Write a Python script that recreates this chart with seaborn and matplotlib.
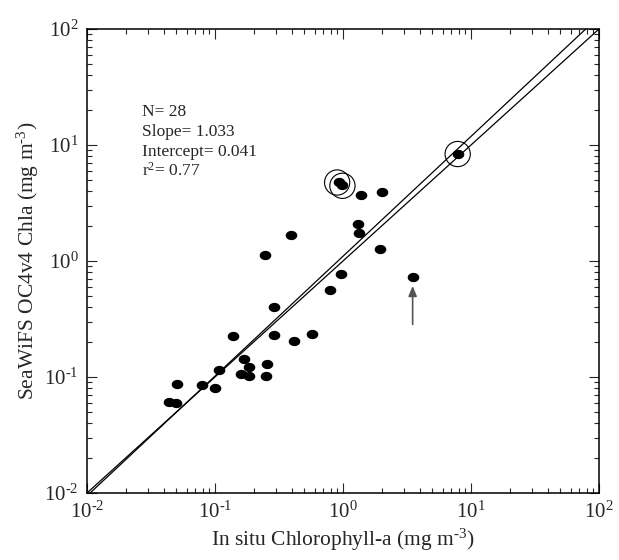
import numpy as np
import pandas as pd
import matplotlib
matplotlib.use("Agg")
import matplotlib.pyplot as plt
from matplotlib.path import Path
import seaborn as sns
from matplotlib.ticker import LogLocator, FixedLocator, FixedFormatter, NullFormatter

# ---- data ----
insitu = [0.044, 0.050, 0.0505, 0.079, 0.100, 0.108, 0.137, 0.169, 0.160, 0.184,
          0.184, 0.256, 0.252, 0.246, 0.290, 0.290, 0.393, 0.412, 0.576, 0.787,
          0.964, 1.31, 1.34, 1.96, 3.50, 0.925, 0.98, 1.39, 2.00, 7.87]
seawifs = [0.0605, 0.0593, 0.0875, 0.0853, 0.080, 0.115, 0.227, 0.143, 0.1055, 0.121,
           0.102, 0.129, 0.1026, 1.12, 0.399, 0.230, 1.69, 0.203, 0.235, 0.559,
           0.778, 2.08, 1.75, 1.27, 0.724, 4.83, 4.52, 3.71, 3.91, 8.36]
circled_x = [0.90, 0.99, 7.87]
circled_y = [4.75, 4.45, 8.36]
arrow_x = 3.5
arrow_from = 0.284
arrow_to = 0.61

n_obs = 28
slope = 1.033
intercept = 0.041
r2 = 0.77
tick_vals = [1e-2, 1e-1, 1e0, 1e1, 1e2]
tick_labels = ["10$^{\u2010 2}$", "10$^{\u2010 1}$", "10$^{0}$", "10$^{1}$", "10$^{2}$"]

df = pd.DataFrame({"insitu": insitu, "seawifs": seawifs})
line_x = np.array([1e-2, 1e2])
lines = pd.DataFrame({
    "x": np.concatenate([line_x, line_x]),
    "y": np.concatenate([line_x, 10 ** (slope * np.log10(line_x) + intercept)]),
    "kind": ["1:1"] * 2 + ["fit"] * 2,
})

# slightly wide elliptical dot, like the reference
theta = np.linspace(0, 2 * np.pi, 41)
ellipse = Path(np.column_stack([np.cos(theta), 0.8 * np.sin(theta)]), closed=True)

sns.set_style("ticks")
plt.rcParams["font.family"] = ["Liberation Serif", "DejaVu Serif"]
plt.rcParams["mathtext.fontset"] = "custom"
plt.rcParams["mathtext.rm"] = "Liberation Serif"
plt.rcParams["mathtext.default"] = "regular"

fig = plt.figure(figsize=(6.19, 5.60), dpi=100)
ax = fig.add_axes([87 / 619, 1 - 493 / 560, 512 / 619, 464 / 560])

sns.lineplot(data=lines, x="x", y="y", units="kind", estimator=None,
             color="black", linewidth=0.9, ax=ax, legend=False)
sns.scatterplot(data=df, x="insitu", y="seawifs", color="black", s=70,
                marker=ellipse, edgecolor="black", linewidth=0, ax=ax,
                legend=False, zorder=3)
sns.scatterplot(x=circled_x, y=circled_y, s=330, facecolor="none",
                edgecolor="black", linewidth=0.8, ax=ax, legend=False, zorder=4)

ax.annotate("", xy=(arrow_x, arrow_to), xytext=(arrow_x, arrow_from),
            arrowprops=dict(arrowstyle="-|>,head_width=0.25,head_length=0.6",
                            color="#555555", lw=1.2,
                            mutation_scale=10, shrinkA=0, shrinkB=0))

ax.set_xscale("log")
ax.set_yscale("log")
ax.set_xlim(1e-2, 1e2)
ax.set_ylim(1e-2, 1e2)

for axis in (ax.xaxis, ax.yaxis):
    axis.set_major_locator(FixedLocator(tick_vals))
    axis.set_major_formatter(FixedFormatter(tick_labels))
    axis.set_minor_locator(LogLocator(base=10, subs=np.arange(2, 10), numticks=20))
    axis.set_minor_formatter(NullFormatter())

ax.tick_params(which="both", direction="in", top=True, right=True,
               width=0.8, labelsize=15, pad=6)
ax.tick_params(which="major", length=7)
ax.tick_params(which="minor", length=3.5)
for sp in ax.spines.values():
    sp.set_linewidth(1.1)
    sp.set_color("black")

ax.set_xlabel("In situ Chlorophyll-a (mg m$^{\u2010 3}$)", fontsize=15.5, labelpad=3)
ax.set_ylabel("SeaWiFS OC4v4 Chla (mg m$^{\u2010 3}$)", fontsize=15.5, labelpad=2)

stats = [f"N= {n_obs}", f"Slope= {slope:.3f}", f"Intercept= {intercept:.3f}",
         f"r$^{{2}}$= {r2:.2f}"]
for i, s in enumerate(stats):
    ax.text((142 - 87) / 512, (493 - (116 + 20 * i)) / 464, s,
            transform=ax.transAxes, fontsize=12.5, va="baseline", ha="left")

fig.savefig("out.png", dpi=100)
